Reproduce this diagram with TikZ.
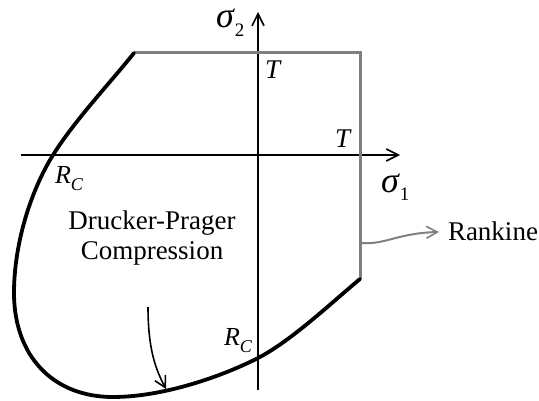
\documentclass[tikz,border=0pt]{standalone}
\usepackage{fontspec}
\setmainfont{Liberation Serif}
\usetikzlibrary{arrows.meta}
\definecolor{rankgray}{RGB}{128,128,128}
\begin{document}
\begin{tikzpicture}[x=1pt,y=-1pt,
  axisline/.style={line width=1.6pt,-{Straight Barb[length=12pt,width=12pt,line width=1.6pt]}},
  rankline/.style={draw=rankgray,line width=3pt,line join=miter},
  dpline/.style={line width=3.8pt,line join=round,line cap=round},
  pointer/.style={line width=1.6pt,-{Straight Barb[length=11pt,width=12pt,line width=1.6pt]}},
  lbl/.style={font=\fontsize{27}{30}\selectfont,inner sep=0pt,outer sep=0pt},
  sig/.style={font=\fontsize{36}{36}\selectfont,inner sep=0pt,outer sep=0pt},
  lab/.style={font=\fontsize{26}{26}\selectfont,inner sep=0pt,outer sep=0pt},
  tlab/.style={font=\fontsize{27}{27}\selectfont\itshape,inner sep=0pt,outer sep=0pt}]
\useasboundingbox (0,0) rectangle (539,401);
% axes
\coordinate (xl) at (21,155);
\coordinate (xr) at (400,155);
\coordinate (yb) at (258,390);
\coordinate (yt) at (258,12);
\draw[axisline] (xl) -- (xr);
\draw[axisline] (yb) -- (yt);
% Rankine square
\coordinate (r1) at (134,53);
\coordinate (r2) at (360,53);
\coordinate (r3) at (360,279);
\draw[rankline] (r1) -- (r2) -- (r3);
% Drucker-Prager curve
\draw[dpline] (r1) .. controls (110,83) and (75,120) .. (53,155)
  .. controls (30,192) and (14,245) .. (14,293)
  .. controls (14,355) and (52,397) .. (113,397)
  .. controls (165,397) and (225,375) .. (258,358)
  .. controls (291,341) and (330,304) .. (r3);
% labels
\node[sig,anchor=base west] (s2) at (216,28) {\textit{σ}\raisebox{-9pt}{\fontsize{19}{19}\selectfont 2}};
\node[sig,anchor=base west] (s1) at (381,193) {\textit{σ}\raisebox{-8pt}{\fontsize{19}{19}\selectfont 1}};
\node[tlab,anchor=base west] (t2) at (265,79) {T};
\node[tlab,anchor=base west] (t1) at (335,148) {T};
\node[lab,anchor=base west] (rc1) at (55,184) {\textit{R}\raisebox{-7pt}{\fontsize{18}{18}\selectfont\itshape C}};
\node[lab,anchor=base west] (rc2) at (224,345) {\textit{R}\raisebox{-7pt}{\fontsize{18}{18}\selectfont\itshape C}};
\node[lbl,anchor=base,align=center] (dp) at (152,260) {Drucker-Prager\\Compression};
\node[lbl,anchor=base west] (rk) at (448,241) {Rankine};
% pointers
\coordinate (dpa) at (148,307);
\coordinate (dpb) at (166,389);
\draw[pointer] (dpa) .. controls (148,350) and (156,370) .. (dpb);
\coordinate (rka) at (361,243);
\coordinate (rkb) at (439,232);
\draw[pointer,draw=rankgray,line width=2pt] (rka) .. controls (385,245) and (398,233) .. (rkb);
\end{tikzpicture}
\end{document}
